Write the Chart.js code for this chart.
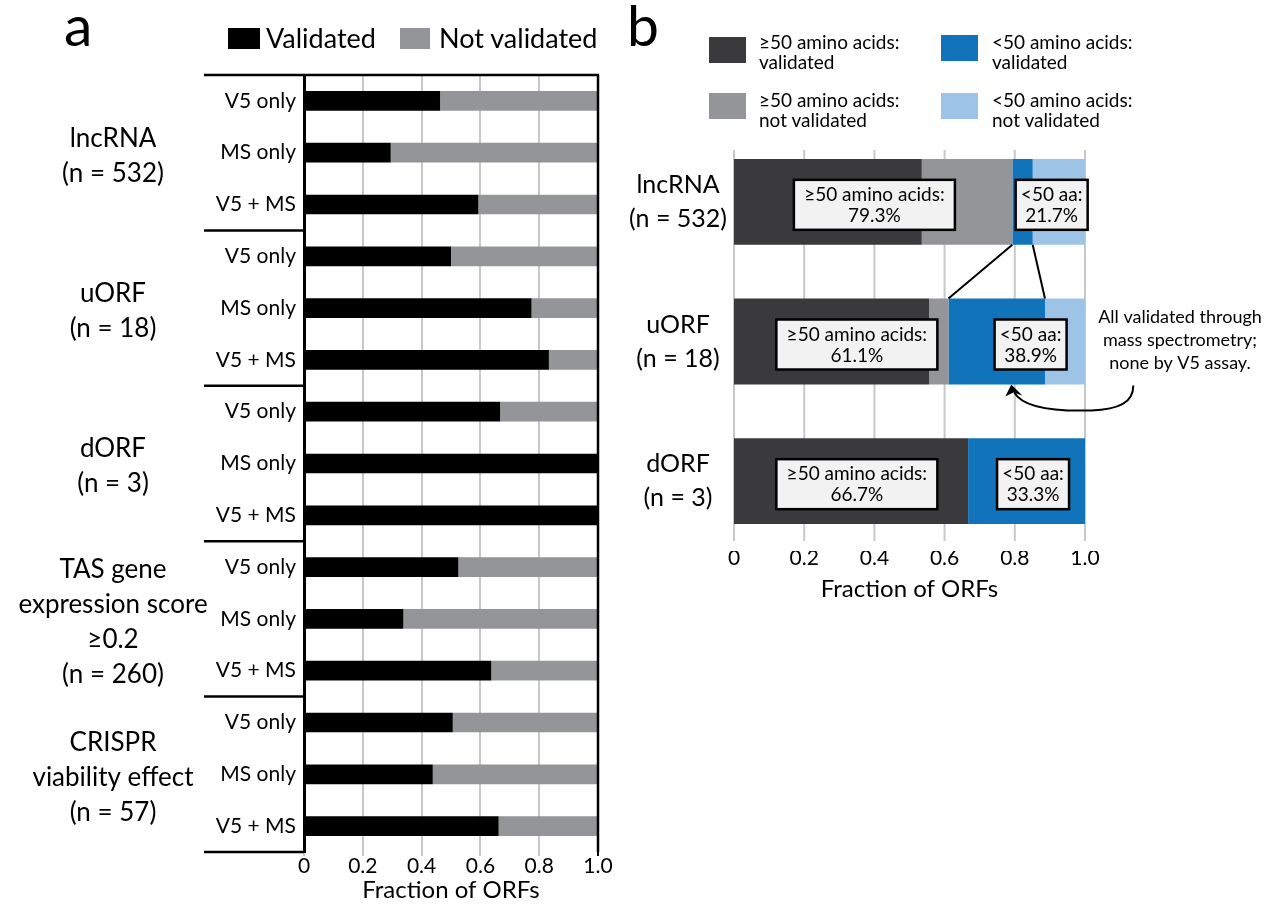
<!DOCTYPE html>
<html>
<head>
<meta charset="utf-8">
<script src="https://cdn.jsdelivr.net/npm/chart.js@4.4.1/dist/chart.umd.min.js"></script>
<style>
  body { margin: 0; background: #fff; font-family: Lato, sans-serif; }
  #wrap { position: relative; width: 1273px; height: 907px; overflow: hidden; }
  canvas { position: absolute; top: 0; }
  .lbl { position: absolute; color: #000; white-space: nowrap; }
  .sw { position: absolute; }
</style>
</head>
<body>
<div id="wrap">
  <canvas id="chartA" width="620" height="907" style="left:0"></canvas>
  <canvas id="chartB" width="653" height="907" style="left:620px"></canvas>

  <div class="lbl" style="left:64px;top:-4px;font-size:57px;line-height:56px">a</div>
  <div class="lbl" style="left:627px;top:-4px;font-size:57px;line-height:56px">b</div>

  <div class="sw" style="left:228px;top:28px;width:32px;height:21px;background:#000"></div>
  <div class="lbl" style="left:266px;top:22px;font-size:27px;line-height:32px">Validated</div>
  <div class="sw" style="left:400px;top:28px;width:30px;height:21px;background:#939598"></div>
  <div class="lbl" style="left:439px;top:22px;font-size:27px;line-height:32px">Not validated</div>

  <div class="sw" style="left:709px;top:37px;width:37px;height:26px;background:#3a3a3c"></div>
  <div class="lbl" style="left:759px;top:32px;font-size:19px;line-height:20px">≥50 amino acids:<br>validated</div>
  <div class="sw" style="left:941px;top:35px;width:37px;height:26px;background:#1174bb"></div>
  <div class="lbl" style="left:992px;top:32px;font-size:19px;line-height:20px">&lt;50 amino acids:<br>validated</div>
  <div class="sw" style="left:709px;top:93px;width:37px;height:26px;background:#939598"></div>
  <div class="lbl" style="left:759px;top:90px;font-size:19px;line-height:20px">≥50 amino acids:<br>not validated</div>
  <div class="sw" style="left:941px;top:93px;width:37px;height:26px;background:#9dc3e6"></div>
  <div class="lbl" style="left:992px;top:90px;font-size:19px;line-height:20px">&lt;50 amino acids:<br>not validated</div>
</div>
<script>
const FONT = 'Lato, sans-serif';

// panel a
const rowLabels = ['V5 only', 'MS only', 'V5 + MS', 'V5 only', 'MS only', 'V5 + MS',
  'V5 only', 'MS only', 'V5 + MS', 'V5 only', 'MS only', 'V5 + MS',
  'V5 only', 'MS only', 'V5 + MS'];
const groupLabels = [
  ['lncRNA', '(n = 532)'],
  ['uORF', '(n = 18)'],
  ['dORF', '(n = 3)'],
  ['TAS gene', 'expression score', '≥0.2', '(n = 260)'],
  ['CRISPR', 'viability effect', '(n = 57)']
];
const validated = [0.463, 0.295, 0.593, 0.500, 0.774, 0.833, 0.667, 1.000, 1.000,
  0.525, 0.338, 0.637, 0.506, 0.438, 0.662];
const notValidated = [0.537, 0.705, 0.407, 0.500, 0.226, 0.167, 0.333, 0.000, 0.000,
  0.475, 0.662, 0.363, 0.494, 0.562, 0.338];

// panel b
const orfTypes = [['lncRNA', '(n = 532)'], ['uORF', '(n = 18)'], ['dORF', '(n = 3)']];
const longValidated = [0.535, 0.556, 0.667];
const longNotValidated = [0.258, 0.055, 0.000];
const shortValidated = [0.058, 0.275, 0.333];
const shortNotValidated = [0.149, 0.114, 0.000];
const longPct = ['79.3%', '61.1%', '66.7%'];
const shortPct = ['21.7%', '38.9%', '33.3%'];

const xTicks = [0, 0.2, 0.4, 0.6, 0.8, 1.0];
const xTickLabels = ['0', '0.2', '0.4', '0.6', '0.8', '1.0'];

const GRID = '#c8c8c8';

const groupPlugin = {
  id: 'groups',
  afterDraw(chart) {
    const {ctx, chartArea: ca, scales: {y}} = chart;
    const lineX = ca.left - 100;
    ctx.save();
    ctx.strokeStyle = '#000';
    ctx.lineWidth = 2.5;
    ctx.beginPath();
    ctx.moveTo(lineX, ca.top);
    ctx.lineTo(ca.right + 1, ca.top);
    ctx.moveTo(ca.right, ca.top);
    ctx.lineTo(ca.right, ca.bottom);
    ctx.stroke();
    ctx.fillStyle = '#000';
    ctx.font = '26px ' + FONT;
    ctx.textAlign = 'center';
    ctx.textBaseline = 'middle';
    groupLabels.forEach((lines, g) => {
      const first = g * 3, last = g * 3 + 2;
      const top = g === 0 ? ca.top : (y.getPixelForValue(first - 1) + y.getPixelForValue(first)) / 2;
      const bottom = last === rowLabels.length - 1 ? ca.bottom : (y.getPixelForValue(last) + y.getPixelForValue(last + 1)) / 2;
      ctx.beginPath();
      ctx.moveTo(lineX, bottom);
      ctx.lineTo(ca.left, bottom);
      ctx.stroke();
      const mid = (top + bottom) / 2;
      const lh = 35;
      lines.forEach((t, i) => {
        ctx.fillText(t, ca.left - 191, mid + (i - (lines.length - 1) / 2) * lh + 3);
      });
    });
    ctx.restore();
  }
};

new Chart(document.getElementById('chartA'), {
  type: 'bar',
  data: {
    labels: rowLabels,
    datasets: [
      {label: 'Validated', data: validated, backgroundColor: '#000'},
      {label: 'Not validated', data: notValidated, backgroundColor: '#939598'}
    ]
  },
  options: {
    indexAxis: 'y',
    responsive: false,
    animation: false,
    layout: {padding: {top: 75, right: 22, left: 0, bottom: 2}},
    datasets: {bar: {barPercentage: 0.38, categoryPercentage: 1, borderWidth: 0}},
    plugins: {legend: {display: false}, tooltip: {enabled: false}},
    scales: {
      y: {
        stacked: true,
        afterFit: s => { s.width = 304; },
        grid: {display: false, drawTicks: false},
        border: {display: true, color: '#000', width: 3},
        ticks: {color: '#000', font: {family: FONT, size: 21}, padding: 8}
      },
      x: {
        stacked: true, min: 0, max: 1,
        afterFit: s => { s.height = 53; },
        afterBuildTicks: s => { s.ticks = xTicks.map(v => ({value: v})); },
        grid: {color: c => (c.tick && c.tick.value === 1 ? '#000' : GRID), lineWidth: 2, tickLength: 4},
        border: {display: false},
        ticks: {color: '#000', font: {family: FONT, size: 21}, padding: -2, maxRotation: 0,
          callback: (v, i) => xTickLabels[i]},
        title: {display: true, text: 'Fraction of ORFs', color: '#000', font: {family: FONT, size: 24}, padding: 0}
      }
    }
  },
  plugins: [groupPlugin]
});

const bPlugin = {
  id: 'annot',
  beforeDatasetsDraw(chart) {
    const {ctx, chartArea: ca, scales: {x}} = chart;
    ctx.save();
    ctx.strokeStyle = GRID;
    ctx.lineWidth = 2;
    xTicks.forEach(v => {
      const px = x.getPixelForValue(v);
      ctx.beginPath();
      ctx.moveTo(px, ca.top + 18);
      ctx.lineTo(px, ca.bottom - 10);
      ctx.stroke();
    });
    ctx.restore();
  },
  afterDatasetsDraw(chart) {
    const {ctx, chartArea: ca, scales: {x}} = chart;
    const bars = chart.getDatasetMeta(0).data;
    ctx.save();
    // lines linking the lncRNA <50 aa validated slice to the uORF one
    const b0 = bars[0], b1 = bars[1];
    const bot0 = b0.y + b0.height / 2, top1 = b1.y - b1.height / 2;
    const s0 = longValidated[0] + longNotValidated[0];
    const s1 = longValidated[1] + longNotValidated[1];
    ctx.strokeStyle = '#000';
    ctx.lineWidth = 2;
    ctx.beginPath();
    ctx.moveTo(x.getPixelForValue(s0), bot0);
    ctx.lineTo(x.getPixelForValue(s1), top1);
    ctx.moveTo(x.getPixelForValue(s0 + shortValidated[0]), bot0);
    ctx.lineTo(x.getPixelForValue(s1 + shortValidated[1]), top1);
    ctx.stroke();

    // boxes
    const boxLong = [0.40, 0.35, 0.35];
    const boxShort = [0.905, 0.845, 0.852];
    ctx.font = '19px ' + FONT;
    ctx.textAlign = 'center';
    ctx.textBaseline = 'middle';
    const box = (cx, cy, w, lines) => {
      ctx.fillStyle = '#f2f2f2';
      ctx.fillRect(cx - w / 2, cy - 25, w, 50);
      ctx.strokeStyle = '#000';
      ctx.lineWidth = 2.5;
      ctx.strokeRect(cx - w / 2, cy - 25, w, 50);
      ctx.fillStyle = '#000';
      ctx.fillText(lines[0], cx, cy - 10);
      ctx.fillText(lines[1], cx, cy + 11);
    };
    bars.forEach((b, i) => {
      box(x.getPixelForValue(boxLong[i]), b.y + 3, 161, ['≥50 amino acids:', longPct[i]]);
      box(x.getPixelForValue(boxShort[i]), b.y + 3, 72, ['<50 aa:', shortPct[i]]);
    });

    // side note + arrow
    ctx.fillStyle = '#000';
    ctx.font = '18px ' + FONT;
    const noteX = ca.right + 95;
    ['All validated through', 'mass spectrometry;', 'none by V5 assay.'].forEach((t, i) => {
      ctx.fillText(t, noteX, b1.y - 24 + i * 23);
    });
    const tx = x.getPixelForValue(0.79), ty = b1.y + b1.height / 2;
    ctx.lineWidth = 2;
    ctx.beginPath();
    ctx.moveTo(tx + 122, ty + 1);
    ctx.bezierCurveTo(tx + 122, ty + 18, tx + 108, ty + 25, tx + 80, ty + 26);
    ctx.bezierCurveTo(tx + 45, ty + 27, tx + 12, ty + 24, tx + 3, ty + 8);
    ctx.stroke();
    ctx.beginPath();
    ctx.moveTo(tx, ty);
    ctx.lineTo(tx - 6, ty + 12);
    ctx.lineTo(tx + 2, ty + 8);
    ctx.lineTo(tx + 11, ty + 11);
    ctx.closePath();
    ctx.fill();
    ctx.restore();
  }
};

new Chart(document.getElementById('chartB'), {
  type: 'bar',
  data: {
    labels: orfTypes,
    datasets: [
      {label: '≥50 amino acids: validated', data: longValidated, backgroundColor: '#3a3a3c'},
      {label: '≥50 amino acids: not validated', data: longNotValidated, backgroundColor: '#939598'},
      {label: '<50 amino acids: validated', data: shortValidated, backgroundColor: '#1174bb'},
      {label: '<50 amino acids: not validated', data: shortNotValidated, backgroundColor: '#9dc3e6'}
    ]
  },
  options: {
    indexAxis: 'y',
    responsive: false,
    animation: false,
    layout: {padding: {top: 132, right: 188, left: 0, bottom: 303}},
    datasets: {bar: {barPercentage: 0.615, categoryPercentage: 1, borderWidth: 0}},
    plugins: {legend: {display: false}, tooltip: {enabled: false}},
    scales: {
      y: {
        stacked: true,
        afterFit: s => { s.width = 114; },
        grid: {display: false, drawTicks: false},
        border: {display: false},
        ticks: {color: '#000', font: {family: FONT, size: 25, lineHeight: 1.36}, padding: 7, crossAlign: 'center'}
      },
      x: {
        stacked: true, min: 0, max: 1,
        afterFit: s => { s.height = 53; },
        afterBuildTicks: s => { s.ticks = xTicks.map(v => ({value: v})); },
        grid: {display: false, drawTicks: false},
        border: {display: false},
        ticks: {color: '#000', font: {family: FONT, size: 21}, padding: -5, maxRotation: 0,
          callback: (v, i) => xTickLabels[i]},
        title: {display: true, text: 'Fraction of ORFs', color: '#000', font: {family: FONT, size: 24}, padding: 0}
      }
    }
  },
  plugins: [bPlugin]
});
</script>
</body>
</html>
